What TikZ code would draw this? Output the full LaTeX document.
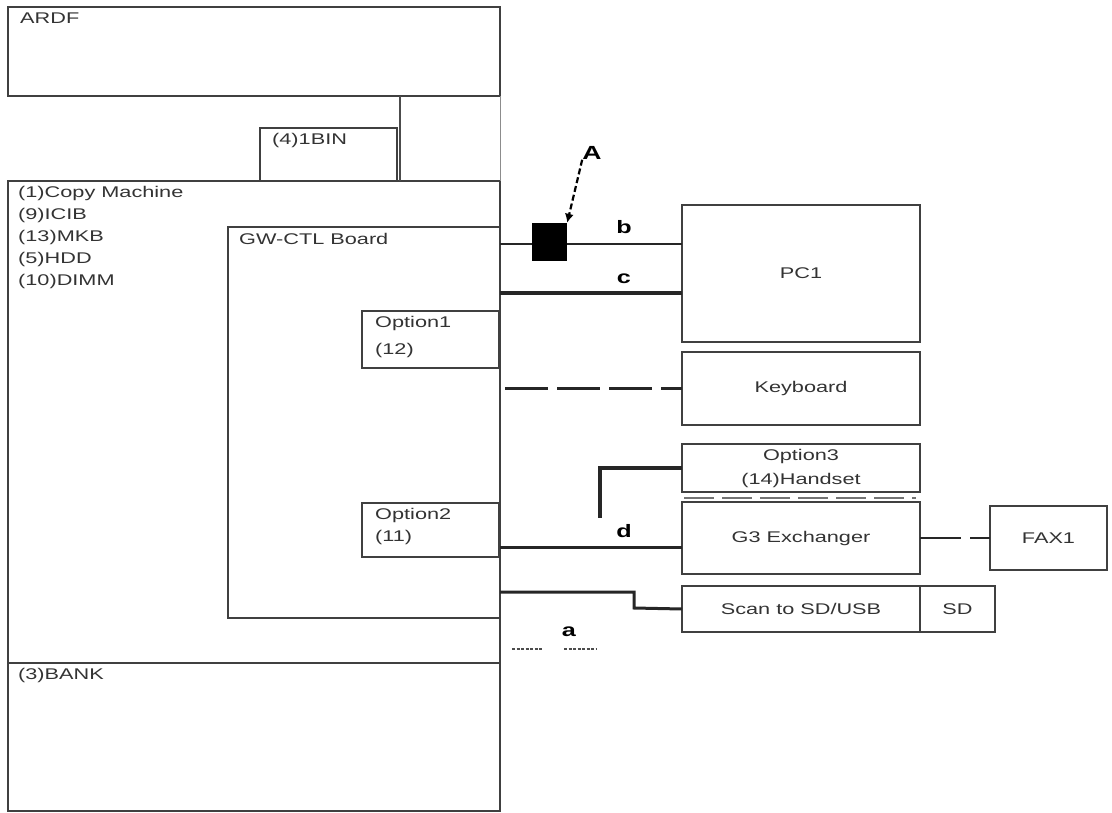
\documentclass[tikz,border=0pt]{standalone}
\usepackage{fontspec}
\setmainfont{Liberation Sans}[FakeStretch=1.4]
\usetikzlibrary{arrows.meta}
\begin{document}
\begin{tikzpicture}[x=1pt,y=-1pt,
  box/.style={draw=black!75,line width=1.6pt,anchor=north west,inner sep=0pt,outer sep=0pt},
  lbl/.style={anchor=north west,inner sep=0pt,text=black!80,align=left,font=\fontsize{15.5}{22}\selectfont},
  ctr/.style={inner sep=0pt,text=black!80,align=center,font=\fontsize{15.5}{24}\selectfont},
  conn/.style={draw=black!85,line width=2.8pt},
  thin/.style={draw=black!70,line width=1.4pt},
  letter/.style={inner sep=0pt,text=black,font=\bfseries\fontsize{18}{18}\selectfont}]
\useasboundingbox (0,0) rectangle (1112,812);
% boxes
\node[box,minimum width=492pt,minimum height=89pt] (ardf) at (8,7) {};
\node[box,minimum width=137pt,minimum height=53pt] (bin) at (260,128) {};
\node[box,minimum width=492pt,minimum height=482pt] (copy) at (8,181) {};
\node[box,minimum width=492pt,minimum height=148pt] (bank) at (8,663) {};
\node[box,minimum width=272pt,minimum height=391pt] (gw) at (228,227) {};
\node[box,minimum width=137pt,minimum height=57pt] (opt1) at (362,311) {};
\node[box,minimum width=137pt,minimum height=54pt] (opt2) at (362,503) {};
\node[box,minimum width=238pt,minimum height=137pt] (pc) at (682,205) {};
\node[box,minimum width=238pt,minimum height=73pt] (kb) at (682,352) {};
\node[box,minimum width=238pt,minimum height=48pt] (hs) at (682,444) {};
\node[box,minimum width=238pt,minimum height=72pt] (g3) at (682,502) {};
\node[box,minimum width=117pt,minimum height=64pt] (fax) at (990,506) {};
\node[box,minimum width=238pt,minimum height=46pt] (scan) at (682,586) {};
\node[box,minimum width=75pt,minimum height=46pt] (sd) at (920,586) {};
% labels
\node[lbl] (tardf) at (20,13) {ARDF};
\node[lbl] (tbin) at (272,133) {(4)1BIN};
\node[lbl] (tcopy) at (18,186) {(1)Copy Machine\\(9)ICIB\\(13)MKB\\(5)HDD\\(10)DIMM};
\node[lbl] (tgw) at (239,233) {GW-CTL Board};
\node[lbl,font=\fontsize{15.5}{27}\selectfont] (topt1) at (375,316) {Option1\\(12)};
\node[lbl] (topt2) at (375,508) {Option2\\(11)};
\node[lbl] (tbank) at (18,668) {(3)BANK};
\node[ctr] (tpc) at (pc.center) {PC1};
\node[ctr] (tkb) at (kb.center) {Keyboard};
\node[ctr] (ths) at (hs.center) {Option3\\(14)Handset};
\node[ctr] (tg3) at (g3.center) {G3 Exchanger};
\node[ctr] (tfax) at (fax.center) {FAX1};
\node[ctr] (tscan) at (scan.center) {Scan to SD/USB};
\node[ctr] (tsd) at (sd.center) {SD};
% structural thin lines
\coordinate (binTop) at (400,96);
\coordinate (binBot) at (400,181);
\draw[thin] (binTop) -- (binBot);
\draw[draw=black!45,line width=1pt] (ardf.south east) -- (copy.north east);
% connectors
\coordinate (by) at (0,244);
\coordinate (cy) at (0,293);
\coordinate (dy) at (0,547);
\coordinate (ay) at (0,592);
\coordinate (hsEnd) at (600,518);
\coordinate (aBend) at (634,592);
\coordinate (aBend2) at (634,608);
\draw[conn,line width=2.6pt] (gw.east |- by) -- (pc.west |- by);
\node[fill=black,inner sep=0pt,minimum width=35pt,minimum height=38pt] (sq) at (549.5,242) {};
\draw[conn,line width=3.4pt] (gw.east |- cy) -- (pc.west |- cy);
\draw[conn,line width=2.4pt,dash pattern=on 43pt off 9pt,dash phase=-5pt] (gw.east |- kb.west) -- (kb.west);
\draw[conn,line width=3.2pt] (hs.west) -| (hsEnd);
\draw[conn,line width=3pt] (gw.east |- dy) -- (g3.west |- dy);
\draw[conn,line width=2.4pt,dash pattern=on 41pt off 9pt] (g3.east) -- (fax.west);
\draw[conn,line width=3pt] (gw.east |- ay) -- (aBend) -- (aBend2) -- (scan.west);
\coordinate (hsD1) at (684,498);
\coordinate (hsD2) at (916,498);
\draw[draw=black!55,line width=1.2pt,dash pattern=on 30pt off 8pt] (hsD1) -- (hsD2);
\coordinate (dot1) at (512,649);
\coordinate (dot2) at (543,649);
\coordinate (dot3) at (564,649);
\coordinate (dot4) at (596,649);
\draw[draw=black!70,line width=1.6pt,dash pattern=on 3pt off 1.5pt] (dot1) -- (dot2);
\draw[draw=black!70,line width=1.6pt,dash pattern=on 3pt off 1.5pt] (dot3) -- (dot4);
% letters
\node[letter] (la) at (569,632) {a};
\node[letter] (lb) at (624,227) {b};
\node[letter] (lc) at (624,279) {c};
\node[letter] (ld) at (624,531) {d};
\node[letter,font=\bfseries\fontsize{19}{19}\selectfont] (lA) at (592,153) {A};
\draw[draw=black,line width=2.2pt,dash pattern=on 6pt off 3pt,-{Latex[length=9pt,width=9pt]}] (lA.south west) -- (sq.north east);
\end{tikzpicture}
\end{document}
